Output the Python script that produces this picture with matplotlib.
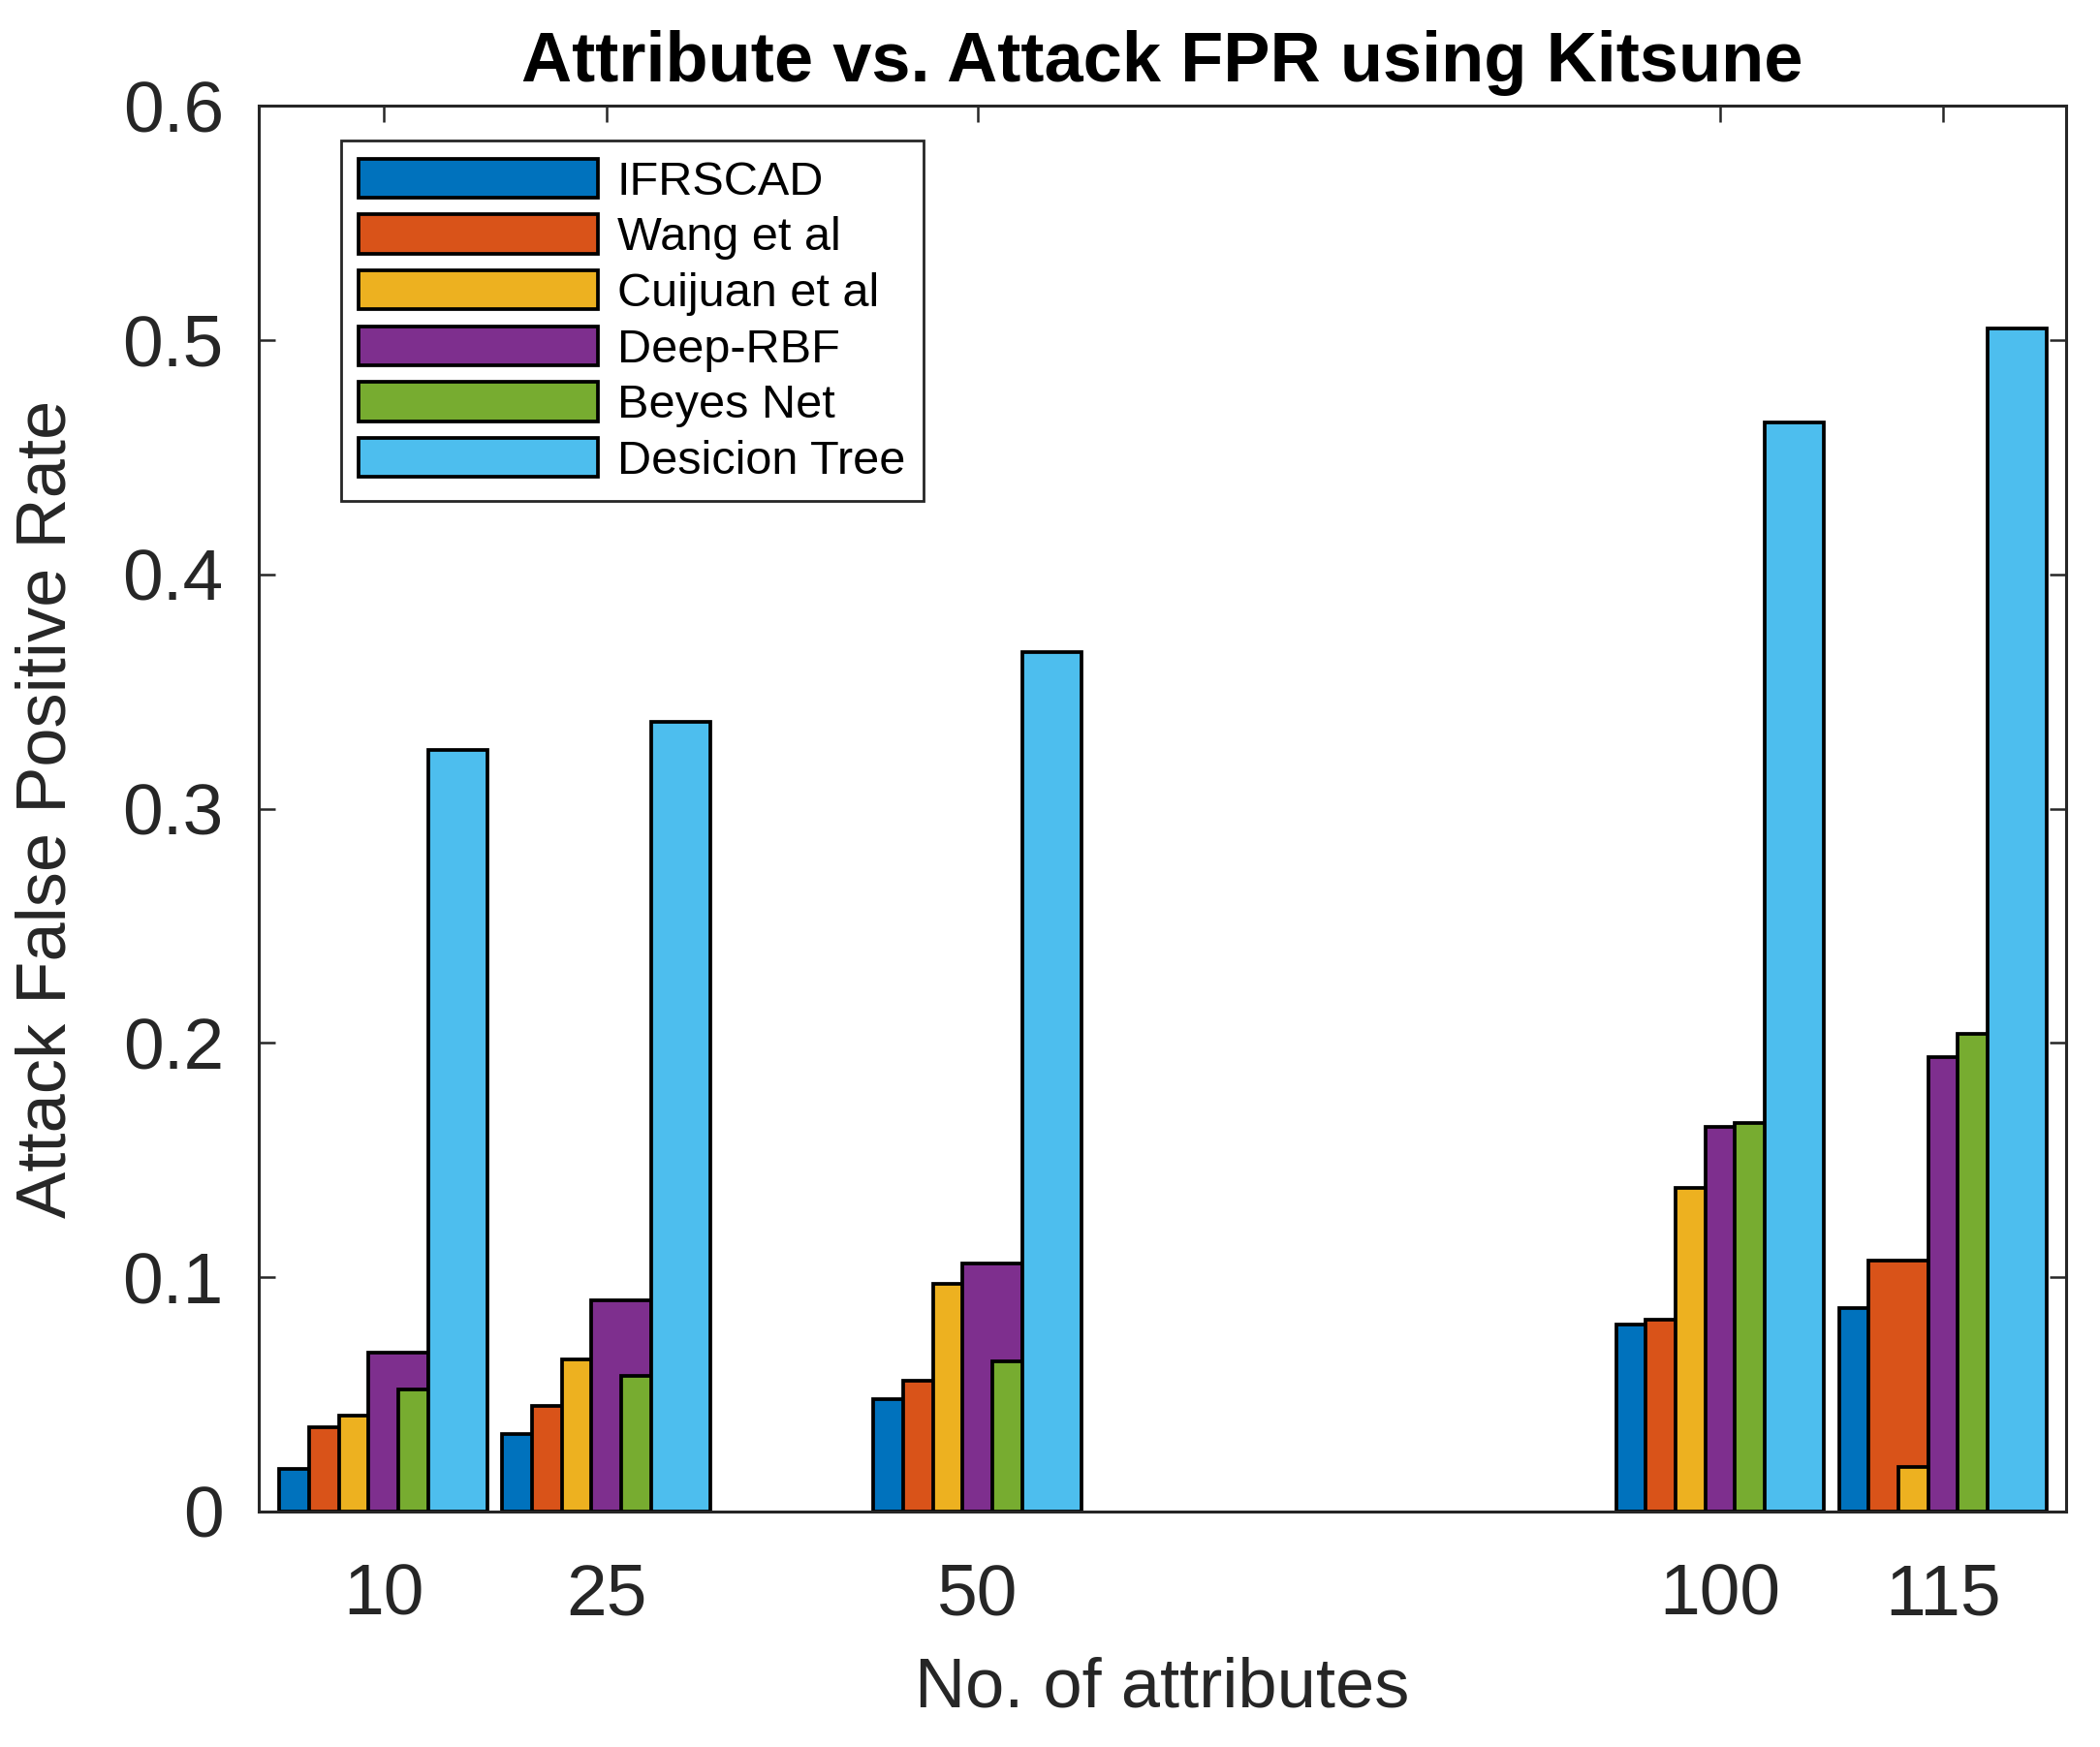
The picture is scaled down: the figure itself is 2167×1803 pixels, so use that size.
import matplotlib.pyplot as plt
import numpy as np

plt.rcParams['font.family'] = ['Liberation Sans', 'DejaVu Sans']

# data
attributes = [10, 25, 50, 100, 115]
methods = ["IFRSCAD", "Wang et al", "Cuijuan et al", "Deep-RBF", "Beyes Net", "Desicion Tree"]
ifrscad = [0.018, 0.033, 0.048, 0.080, 0.087]
wang = [0.036, 0.045, 0.056, 0.082, 0.107]
cuijuan = [0.041, 0.065, 0.097, 0.138, 0.019]
deep_rbf = [0.068, 0.090, 0.106, 0.164, 0.194]
beyes_net = [0.052, 0.058, 0.064, 0.166, 0.204]
desicion_tree = [0.325, 0.337, 0.367, 0.465, 0.505]
series = [ifrscad, wang, cuijuan, deep_rbf, beyes_net, desicion_tree]

colors = ["#0072BD", "#D95319", "#EDB120", "#7E2F8E", "#77AC30", "#4DBEEE"]

fig = plt.figure(figsize=(21.67, 18.03), dpi=100)
ax = fig.add_axes([0.1232, 0.1348, 0.8607, 0.8047])

# MATLAB-like overlapping grouped bars: each bar 4 wide, offsets 2 apart,
# later series drawn on top
offsets = [-5, -3, -1, 1, 3, 5]
x = np.array(attributes, dtype=float)
for k in range(len(series)):
    ax.bar(x + offsets[k], series[k], width=4, color=colors[k],
           edgecolor="black", linewidth=2.7, label=methods[k], zorder=2 + k)

ax.set_xlim(1.6, 123.3)
ax.set_ylim(0, 0.6)
ax.set_xticks(attributes)
ax.set_xticklabels([str(a) for a in attributes])
ax.set_yticks([0, 0.1, 0.2, 0.3, 0.4, 0.5, 0.6])
ax.set_yticklabels(["0", "0.1", "0.2", "0.3", "0.4", "0.5", "0.6"])

ax.tick_params(axis="both", direction="in", length=12, width=1.8,
               colors="#262626", labelsize=54, top=True, right=True)
ax.tick_params(axis="x", pad=38)
ax.tick_params(axis="y", pad=26)
for s in ax.spines.values():
    s.set_linewidth(2.2)
    s.set_color("#262626")
    s.set_zorder(20)

ax.set_xlabel("No. of attributes", fontsize=52, color="#262626", labelpad=20)
ax.set_ylabel("Attack False Positive Rate", fontsize=52, color="#262626", labelpad=32)
ax.set_title("Attribute vs. Attack FPR using Kitsune", fontsize=52,
             fontweight="bold", pad=18)

leg = ax.legend(loc="upper left", bbox_to_anchor=(0.0456, 0.975),
                borderaxespad=0, fontsize=35, handlelength=5.08,
                handleheight=0.9, labelspacing=0.22, handletextpad=0.4,
                borderpad=0.38, fancybox=False, framealpha=1)
leg.get_frame().set_edgecolor("#262626")
leg.get_frame().set_linewidth(2)
leg.set_zorder(30)

fig.savefig("out.png", dpi=100)
